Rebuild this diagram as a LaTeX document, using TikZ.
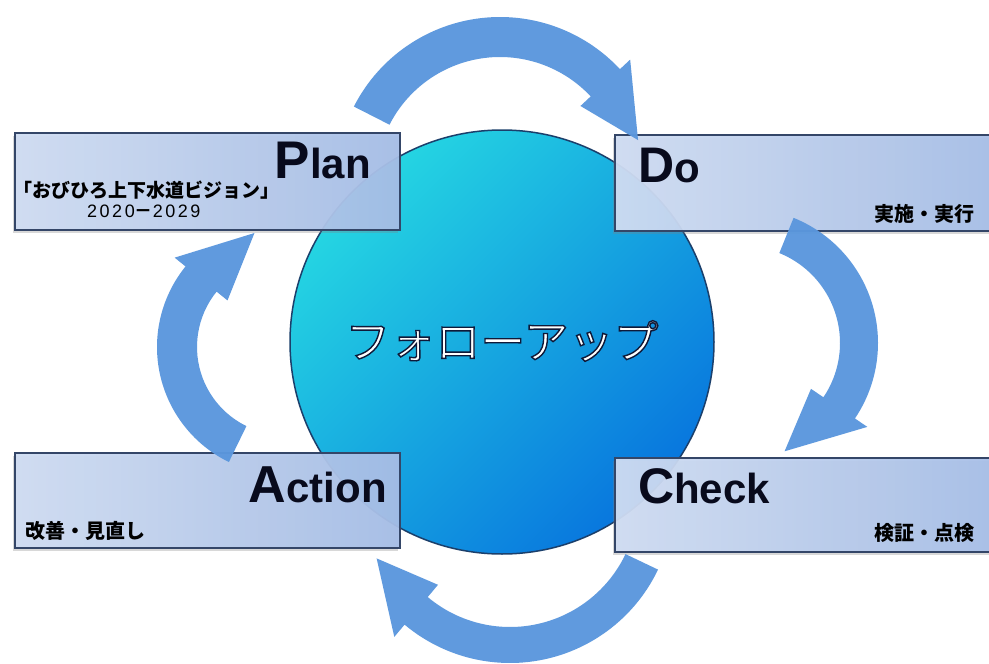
\documentclass[tikz,border=0pt]{standalone}
\usepackage{fontspec}
\setmainfont{Liberation Sans}
\newfontfamily\cjk{Noto Sans CJK JP}
\newfontfamily\digitfont[LetterSpace=14]{Liberation Sans}
\usetikzlibrary{shadows,calc}
\definecolor{arrowblue}{RGB}{91,151,221}
\definecolor{boxL}{RGB}{208,221,243}
\definecolor{boxR}{RGB}{166,190,231}
\definecolor{boxline}{RGB}{52,70,104}
\definecolor{circC}{RGB}{37,214,226}
\definecolor{circB}{RGB}{8,118,222}
\definecolor{circline}{RGB}{27,63,107}
\definecolor{titlecol}{RGB}{8,10,28}
\tikzset{
  phasebox/.style={draw=boxline, line width=2.2pt, left color=boxL, right color=boxR,
    fill opacity=0.94, minimum width=385pt, inner sep=0pt,
    drop shadow={shadow xshift=-2pt, shadow yshift=-3pt, opacity=0.3}},
  titletext/.style={inner sep=0pt, text=titlecol, font=\bfseries},
  labeltext/.style={inner sep=0pt, text=black, font=\cjk\bfseries\fontsize{20}{20}\selectfont},
  arrowfill/.style={fill=arrowblue, fill opacity=0.97},
}
\newcommand\blockarrow[9]{%
  % #1 name, #2 cx, #3 cy, #4 R, #5 a1, #6 a2, #7 tip angle, #8 tip radius, #9 half width
  \coordinate (#1) at (#2,-#3);
  \fill[arrowfill] ($(#1)+(#5:{#4+#9})$) arc[start angle=#5, end angle=#6, radius={(#4+#9)*1pt}]
    -- ($(#1)+(#6:{#4+34})$) -- ($(#1)+(#7:#8)$) -- ($(#1)+(#6:{#4-34})$)
    -- ($(#1)+(#6:{#4-#9})$) arc[start angle=#6, end angle=#5, radius={(#4-#9)*1pt}] -- cycle;}
\newcommand\bigfirst[3]{{\fontsize{#3}{#3}\selectfont #1}{\fontsize{42}{42}\selectfont #2}}
\begin{document}
\begin{tikzpicture}[x=1pt,y=1pt]
\useasboundingbox (0,0) rectangle (989,-664);
\fill[white] (0,0) rectangle (989,-664);

% central circle
\node[circle, minimum size=424pt, draw=circline, line width=1.5pt,
      top color=circC, bottom color=circB, shading angle=45] (hub) at (502,-342) {};

% boxes
\node[phasebox, minimum height=97pt] (plan) at (207.5,-181.5) {};
\node[phasebox, minimum height=96pt] (do) at (807.5,-183) {};
\node[phasebox, minimum height=95pt] (act) at (207.5,-500.5) {};
\node[phasebox, minimum height=94pt] (chk) at (807.5,-505) {};

% titles
\node[titletext, anchor=base east] (plant) at (371,-178) {\bigfirst{P}{lan}{53}};
\node[titletext, anchor=base west] (dot) at (638,-182) {\bigfirst{D}{o}{50}};
\node[titletext, anchor=base east] (actt) at (387,-502) {\bigfirst{A}{ction}{52}};
\node[titletext, anchor=base west] (chkt) at (638,-503) {\bigfirst{C}{heck}{50}};

% labels
\node[inner sep=0pt, anchor=base west, font=\cjk\bfseries\fontsize{19}{19}\selectfont] (vision) at (13,-197) {「おびひろ上下水道ビジョン」};
\node[inner sep=0pt, anchor=base west, font=\fontsize{18}{18}\selectfont] (years) at (87,-217) {\digitfont 2020{\cjk\bfseries －}2029};
\node[labeltext, anchor=base east] (dolab) at (975,-221) {実施・実行};
\node[labeltext, anchor=base west] (actlab) at (25,-538) {改善・見直し};
\node[labeltext, anchor=base east] (chklab) at (975,-540) {検証・点検};

% center text
\node[inner sep=0pt, font=\cjk\fontsize{45}{45}\selectfont] (follow) at (502,-341)
  {\color{white}\special{pdf:literal direct 0.06 0.1 0.22 RG 1.4 w 2 Tr}フォローアップ\special{pdf:literal direct 0 Tr}};

% cycle arrows
\blockarrow{ctop}{500}{181}{144}{153}{43}{16.5}{144}{20}
\blockarrow{cright}{743}{343}{116}{68}{-34}{-69}{116}{19}
\blockarrow{cbot}{510}{499}{146}{-25.5}{-130}{-156}{146}{18}
\blockarrow{cleft}{285}{347}{108}{244}{141}{105}{118}{20}
\end{tikzpicture}
\end{document}
